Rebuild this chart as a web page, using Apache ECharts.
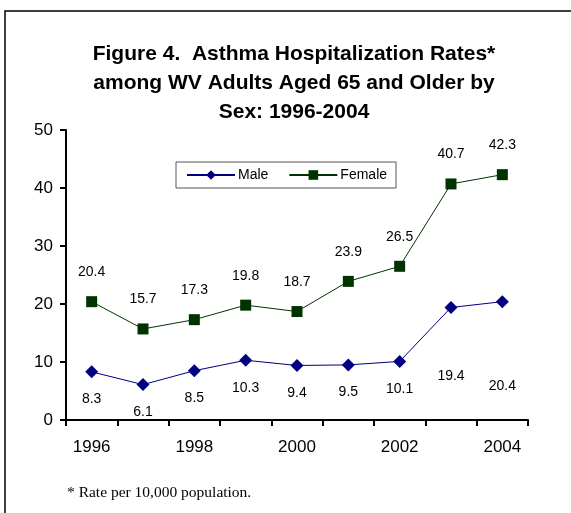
<!DOCTYPE html>
<html>
<head>
<meta charset="utf-8">
<script src="https://cdn.jsdelivr.net/npm/echarts@6/dist/echarts.min.js"></script>
<style>
  html, body { margin: 0; padding: 0; background: #fff; }
  #chart { width: 571px; height: 513px; }
</style>
</head>
<body>
<div id="chart"></div>
<script>
// Asthma hospitalization rates per 10,000, WV adults 65+, by sex
const years = ['1996', '1997', '1998', '1999', '2000', '2001', '2002', '2003', '2004'];
const maleRates = [8.3, 6.1, 8.5, 10.3, 9.4, 9.5, 10.1, 19.4, 20.4];
const femaleRates = [20.4, 15.7, 17.3, 19.8, 18.7, 23.9, 26.5, 40.7, 42.3];
const yTicks = { min: 0, max: 50, interval: 10 };

// the last two male labels sit further below their markers
const maleLabelDistance = [14, 14, 14, 14, 14, 14, 14, 55, 71];

const chart = echarts.init(document.getElementById('chart'), null, { renderer: 'canvas' });

const sans = 'Liberation Sans, Arial, sans-serif';
const labelFont = { fontFamily: sans, fontSize: 14, color: '#000' };

chart.setOption({
  backgroundColor: '#fff',
  animation: false,
  title: {
    text: 'Figure 4.  Asthma Hospitalization Rates*\namong WV Adults Aged 65 and Older by\nSex: 1996-2004',
    left: 289,
    top: 35,
    textAlign: 'center',
    textStyle: {
      fontFamily: sans,
      fontSize: 21,
      fontWeight: 'bold',
      color: '#000',
      lineHeight: 29
    }
  },
  legend: {
    data: ['Male', 'Female'],
    left: 176,
    top: 162,
    itemWidth: 48,
    itemHeight: 12,
    itemGap: 20,
    padding: [6, 9, 6, 10],
    borderColor: '#555',
    borderWidth: 1,
    textStyle: { fontFamily: sans, fontSize: 14, color: '#000', padding: [0, 0, 0, -2] }
  },
  grid: { left: 66, right: 43, top: 130, bottom: 93, containLabel: false },
  xAxis: {
    type: 'category',
    data: years,
    boundaryGap: true,
    axisLine: { lineStyle: { color: '#000', width: 2 } },
    axisTick: { show: true, interval: 0, length: 6, lineStyle: { color: '#000', width: 2 } },
    axisLabel: {
      interval: 1,
      margin: 19,
      fontFamily: sans,
      fontSize: 17,
      color: '#000'
    },
    splitLine: { show: false }
  },
  yAxis: {
    type: 'value',
    min: yTicks.min,
    max: yTicks.max,
    interval: yTicks.interval,
    axisLine: { show: true, lineStyle: { color: '#000', width: 2 } },
    axisTick: { show: true, length: 6, lineStyle: { color: '#000', width: 2 } },
    axisLabel: {
      margin: 13,
      fontFamily: sans,
      fontSize: 17,
      color: '#000'
    },
    splitLine: { show: false }
  },
  series: [
    {
      name: 'Male',
      type: 'line',
      data: maleRates.map((v, i) => ({
        value: v,
        label: { distance: maleLabelDistance[i] }
      })),
      symbol: 'diamond',
      symbolSize: 13,
      itemStyle: { color: '#000080' },
      lineStyle: { color: '#000080', width: 1 },
      label: {
        show: true,
        position: 'bottom',
        ...labelFont
      }
    },
    {
      name: 'Female',
      type: 'line',
      data: femaleRates,
      symbol: 'rect',
      symbolSize: 11,
      itemStyle: { color: '#003300' },
      lineStyle: { color: '#003300', width: 1 },
      label: {
        show: true,
        position: 'top',
        distance: 17,
        ...labelFont
      }
    }
  ],
  graphic: [
    {
      type: 'rect',
      shape: { x: 5, y: 11, width: 600, height: 600 },
      style: { fill: null, stroke: '#000', lineWidth: 1.5 },
      silent: true,
      z: 100
    },
    {
      type: 'text',
      left: 67,
      top: 485,
      style: {
        text: '* Rate per 10,000 population.',
        font: '15.5px "Liberation Serif", "Times New Roman", serif',
        fill: '#000'
      }
    }
  ]
});
</script>
</body>
</html>
